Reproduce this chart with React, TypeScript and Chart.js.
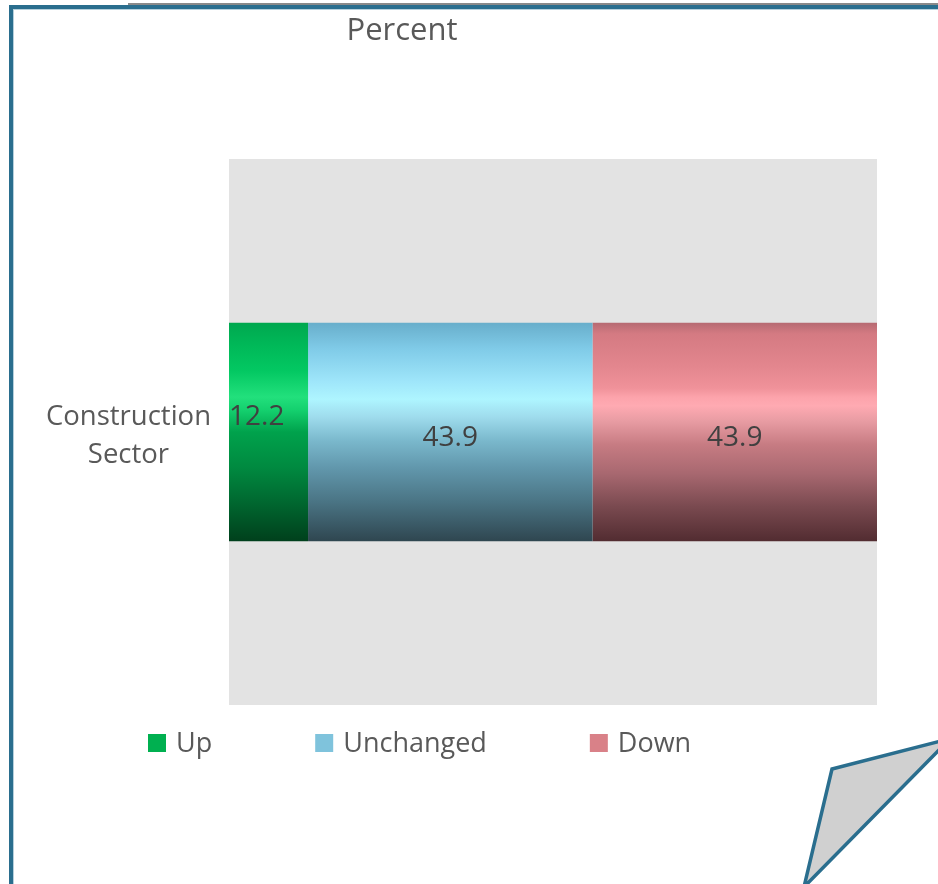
import React, { useEffect, useRef } from 'react';
import { Chart, registerables } from 'chart.js';

Chart.register(...registerables);

// ---------- data ----------
const categories = [['Construction', 'Sector']];
const seriesNames = ['Up', 'Unchanged', 'Down'];
const upValues = [12.2];
const unchangedValues = [43.9];
const downValues = [43.9];
const axisMin = 0;
const axisMax = 100;
const titleText = 'Percent';

// ---------- style ----------
const FONT = "'Open Sans', 'DejaVu Sans', sans-serif";
const TEXT_COLOR = '#595959';
const LABEL_COLOR = '#404040';
const FRAME_COLOR = '#2a6e8e';
const PLOT_BG = '#e3e3e3';
const BAR_PCT = 0.4;

const legendColors = ['#00b050', '#7fc3dc', '#d98188'];
const gradientStops: [number, string][][] = [
  [
    [0, '#00a84f'],
    [0.1, '#00b858'],
    [0.22, '#03c862'],
    [0.34, '#22e07c'],
    [0.4, '#14d06e'],
    [0.5, '#00a24c'],
    [0.66, '#008a40'],
    [0.82, '#006830'],
    [1, '#00401c'],
  ],
  [
    [0, '#68aecb'],
    [0.12, '#80cbe8'],
    [0.27, '#9fe6fa'],
    [0.35, '#aef5ff'],
    [0.43, '#9fdced'],
    [0.54, '#7ab8cc'],
    [0.66, '#6298ad'],
    [0.82, '#4a7484'],
    [1, '#2f4650'],
  ],
  [
    [0, '#b66a72'],
    [0.05, '#d47a82'],
    [0.2, '#e3868e'],
    [0.3, '#f0929a'],
    [0.34, '#fca3ab'],
    [0.38, '#ffaab2'],
    [0.45, '#e89ca3'],
    [0.56, '#c67b82'],
    [0.69, '#a86870'],
    [0.84, '#7a4a50'],
    [1, '#522c31'],
  ],
];
const labelAnchors = ['start', 'center', 'center'];

function makeGradient(stops: [number, string][]) {
  return (ctx: any) => {
    const chart = ctx.chart;
    const ys = chart.scales && chart.scales.y;
    if (!chart.chartArea || !ys) return stops[Math.floor(stops.length / 2)][1];
    const idx = ctx.dataIndex ?? 0;
    const center = ys.getPixelForValue(idx);
    const half = ((ys.height / chart.data.labels.length) * BAR_PCT) / 2;
    const g = chart.ctx.createLinearGradient(0, center - half, 0, center + half);
    stops.forEach(([o, c]) => g.addColorStop(o, c));
    return g;
  };
}

const framePlugin = {
  id: 'frame',
  beforeDraw(chart: any) {
    const { ctx, chartArea, width, height } = chart;
    ctx.save();
    ctx.fillStyle = '#ffffff';
    ctx.fillRect(0, 0, width, height);
    ctx.fillStyle = PLOT_BG;
    ctx.fillRect(chartArea.left, chartArea.top, chartArea.right - chartArea.left, chartArea.bottom - chartArea.top);
    // frame
    ctx.fillStyle = '#8a8a8a';
    ctx.fillRect(128, 3, width - 128, 2);
    ctx.fillStyle = FRAME_COLOR;
    ctx.fillRect(9, 5, width - 9, 4);
    ctx.fillRect(9, 5, 4, height - 5);
    ctx.fillStyle = '#b6d0dc';
    ctx.fillRect(13, 9, width - 13, 1);
    ctx.fillRect(13, 9, 1, height - 9);
    // title
    ctx.fillStyle = TEXT_COLOR;
    ctx.font = `31px ${FONT}`;
    ctx.textAlign = 'center';
    ctx.textBaseline = 'alphabetic';
    ctx.fillText(titleText, 402, 40);
    ctx.restore();
  },
  afterDatasetsDraw(chart: any) {
    const { ctx } = chart;
    ctx.save();
    ctx.fillStyle = LABEL_COLOR;
    ctx.font = `28px ${FONT}`;
    ctx.textBaseline = 'middle';
    chart.data.datasets.forEach((ds: any, di: number) => {
      const meta = chart.getDatasetMeta(di);
      meta.data.forEach((el: any, i: number) => {
        const { x, base, y } = el.getProps(['x', 'base', 'y'], true);
        const v = ds.data[i];
        const text = v.toFixed(1);
        if (labelAnchors[di] === 'start') {
          ctx.textAlign = 'left';
          ctx.fillText(text, Math.min(x, base), y - 15);
        } else {
          ctx.textAlign = 'center';
          ctx.fillText(text, (x + base) / 2, y + 6);
        }
      });
    });
    ctx.restore();
  },
  afterDraw(chart: any) {
    const { ctx, width, height } = chart;
    ctx.save();
    // legend
    ctx.font = `27px ${FONT}`;
    ctx.textBaseline = 'middle';
    ctx.textAlign = 'left';
    let lx = 148;
    const ly = 743;
    const box = 18;
    chart.data.datasets.forEach((ds: any, di: number) => {
      ctx.fillStyle = legendColors[di];
      ctx.fillRect(lx, ly - box / 2, box, box);
      ctx.fillStyle = TEXT_COLOR;
      ctx.fillText(ds.label, lx + box + 10, ly + 1);
      lx += box + 10 + ctx.measureText(ds.label).width + 103;
    });
    // page curl
    ctx.beginPath();
    ctx.moveTo(832, 769);
    ctx.lineTo(width + 3, 741);
    ctx.lineTo(width + 3, 748);
    ctx.lineTo(804, height + 3);
    ctx.closePath();
    ctx.fillStyle = '#d0d0d0';
    ctx.fill();
    ctx.strokeStyle = FRAME_COLOR;
    ctx.lineWidth = 3.5;
    ctx.lineJoin = 'miter';
    ctx.stroke();
    ctx.restore();
  },
};

export default function App() {
  const ref = useRef<HTMLCanvasElement>(null);
  useEffect(() => {
    document.body.style.margin = '0';
    const canvas = ref.current!;
    const seriesValues = [upValues, unchangedValues, downValues];
    const chart = new Chart(canvas, {
      type: 'bar',
      data: {
        labels: categories as any,
        datasets: seriesNames.map((name, i) => ({
          label: name,
          data: seriesValues[i],
          backgroundColor: makeGradient(gradientStops[i]),
          borderWidth: 0,
          barPercentage: BAR_PCT,
          categoryPercentage: 1,
        })),
      },
      options: {
        indexAxis: 'y',
        animation: false,
        responsive: false,
        devicePixelRatio: 1,
        layout: { padding: { top: 159, bottom: 179, right: 61, left: 0 } },
        plugins: {
          legend: { display: false },
          title: { display: false },
          tooltip: { enabled: false },
        },
        scales: {
          x: {
            stacked: true,
            min: axisMin,
            max: axisMax,
            display: false,
          },
          y: {
            stacked: true,
            grid: { display: false, drawTicks: false },
            border: { display: false },
            afterFit(scale: any) {
              scale.width = 229;
            },
            ticks: {
              crossAlign: 'center',
              padding: 18,
              labelOffset: 4,
              color: TEXT_COLOR,
              font: { family: FONT, size: 27.5, lineHeight: 1.38 },
            },
          },
        },
      },
      plugins: [framePlugin],
    });
    return () => chart.destroy();
  }, []);
  return <canvas ref={ref} width={938} height={884} style={{ display: 'block' }} />;
}
